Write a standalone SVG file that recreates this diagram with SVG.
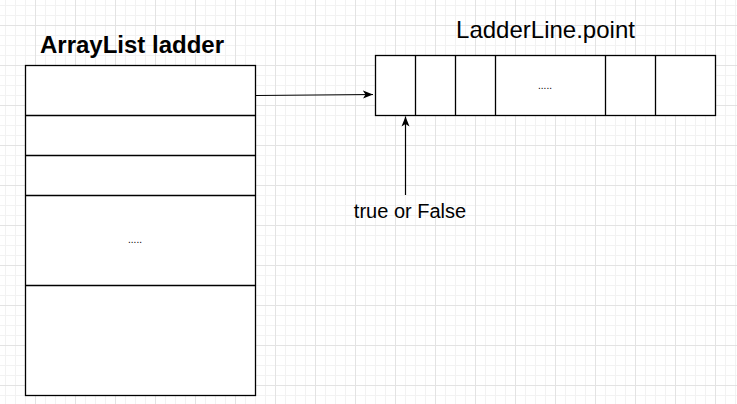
<svg xmlns="http://www.w3.org/2000/svg" width="737" height="404" viewBox="0 0 737 404">
  <defs>
    <pattern id="minor" x="5" y="5" width="10" height="10" patternUnits="userSpaceOnUse">
      <rect x="0" y="0" width="1" height="10" fill="#f2f2f2"/>
      <rect x="0" y="0" width="10" height="1" fill="#f2f2f2"/>
    </pattern>
    <pattern id="major" x="35" y="25" width="40" height="40" patternUnits="userSpaceOnUse">
      <rect x="0" y="0" width="1" height="40" fill="#e3e3e3"/>
      <rect x="0" y="0" width="40" height="1" fill="#e3e3e3"/>
    </pattern>
    <marker id="arrow" markerUnits="userSpaceOnUse" markerWidth="12" markerHeight="10" refX="10" refY="4" orient="auto" viewBox="0 0 12 8">
      <path d="M0,0 L10,4 L0,8 L2.5,4 Z" fill="#000"/>
    </marker>
    <style>
      .box { fill: #ffffff; stroke: #000000; stroke-width: 1.3; }
      .div { stroke: #000000; stroke-width: 1.3; fill: none; }
      .edge { stroke: #000000; stroke-width: 1.2; fill: none; marker-end: url(#arrow); }
      .title { font-family: "Liberation Sans", Arial, sans-serif; font-size: 24px; fill: #000; text-anchor: middle; }
      .lbl { font-family: "Liberation Sans", Arial, sans-serif; font-size: 20px; fill: #000; text-anchor: middle; }
      .dots { font-family: "Liberation Sans", Arial, sans-serif; font-size: 10px; fill: #000; text-anchor: middle; }
    </style>
  </defs>
  <rect x="0" y="0" width="737" height="404" fill="#ffffff"/>
  <rect x="0" y="0" width="737" height="404" fill="url(#minor)"/>
  <rect x="0" y="0" width="737" height="404" fill="url(#major)"/>

  <g id="arraylist">
    <text class="title" x="132" y="53" font-weight="bold">ArrayList ladder</text>
    <rect class="box" x="25.5" y="65.5" width="230" height="330"/>
    <line class="div" x1="25.5" y1="115.5" x2="255.5" y2="115.5"/>
    <line class="div" x1="25.5" y1="155.5" x2="255.5" y2="155.5"/>
    <line class="div" x1="25.5" y1="195.5" x2="255.5" y2="195.5"/>
    <line class="div" x1="25.5" y1="285.5" x2="255.5" y2="285.5"/>
    <text class="dots" x="135" y="243">.....</text>
  </g>

  <g id="ladderline">
    <text class="title" x="545.5" y="38">LadderLine.point</text>
    <rect class="box" x="375.5" y="55.5" width="340" height="60"/>
    <line class="div" x1="415.5" y1="55.5" x2="415.5" y2="115.5"/>
    <line class="div" x1="455.5" y1="55.5" x2="455.5" y2="115.5"/>
    <line class="div" x1="495.5" y1="55.5" x2="495.5" y2="115.5"/>
    <line class="div" x1="605.5" y1="55.5" x2="605.5" y2="115.5"/>
    <line class="div" x1="655.5" y1="55.5" x2="655.5" y2="115.5"/>
    <text class="dots" x="545" y="89">.....</text>
  </g>

  <g id="label">
    <text class="lbl" x="410" y="218">true or False</text>
  </g>

  <g id="connectors">
    <line class="edge" x1="256" y1="95.5" x2="373" y2="94.5"/>
    <line class="edge" x1="405.5" y1="195" x2="405.5" y2="116.5"/>
  </g>
</svg>
